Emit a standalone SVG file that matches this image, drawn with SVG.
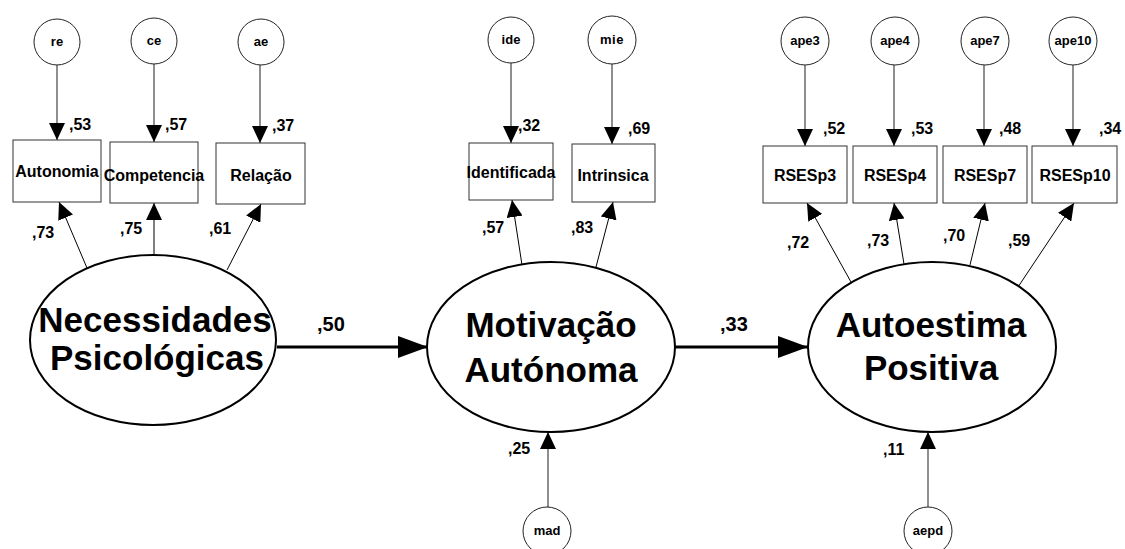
<svg xmlns="http://www.w3.org/2000/svg" width="1125" height="549" viewBox="0 0 1125 549">
<defs>
<marker id="ah" markerUnits="userSpaceOnUse" markerWidth="18" markerHeight="16" refX="17" refY="8" orient="auto"><path d="M0,0 L17,8 L0,16 Z" fill="#000"/></marker>
<marker id="ahb" markerUnits="userSpaceOnUse" markerWidth="30" markerHeight="22" refX="30" refY="11" orient="auto"><path d="M0,0 L30,11 L0,22 Z" fill="#000"/></marker>
</defs>
<style>
text{font-family:"Liberation Sans",Arial,sans-serif;font-weight:bold;fill:#000}
.err{fill:#fff;stroke:#222;stroke-width:1}
.et{font-size:13px;text-anchor:middle}
.box{fill:#fff;stroke:#333;stroke-width:1}
.bt{font-size:16px;text-anchor:middle}
.lat{fill:#fff;stroke:#000;stroke-width:2}
.lt{font-size:35px;text-anchor:middle}
.num{font-size:16px}
.big{font-size:20px}
.ln{stroke:#000;stroke-width:1;fill:none;marker-end:url(#ah)}
.eln{stroke:#444;stroke-width:1.2;fill:none;marker-end:url(#ah)}
.thick{stroke:#000;stroke-width:3;fill:none;marker-end:url(#ahb)}
</style>
<g id="connectors">
<line class="eln" x1="57" y1="64" x2="57" y2="140"/>
<line class="eln" x1="154" y1="63" x2="154" y2="142"/>
<line class="eln" x1="260" y1="65" x2="260" y2="143"/>
<line class="eln" x1="511" y1="63" x2="511" y2="143"/>
<line class="eln" x1="612" y1="64" x2="612" y2="144"/>
<line class="eln" x1="805" y1="65" x2="805" y2="146"/>
<line class="eln" x1="894" y1="65" x2="894" y2="146"/>
<line class="eln" x1="984" y1="65" x2="984" y2="146"/>
<line class="eln" x1="1073" y1="65" x2="1073" y2="146"/>
<line class="ln" x1="87" y1="268" x2="59" y2="202"/>
<line class="ln" x1="154" y1="255" x2="154" y2="203"/>
<line class="ln" x1="227" y1="270" x2="261" y2="204"/>
<line class="ln" x1="522" y1="265" x2="512" y2="200"/>
<line class="ln" x1="596" y1="267" x2="613" y2="202"/>
<line class="ln" x1="851" y1="282" x2="807" y2="203"/>
<line class="ln" x1="904" y1="264" x2="894" y2="203"/>
<line class="ln" x1="970" y1="265" x2="985" y2="203"/>
<line class="ln" x1="1018" y1="287" x2="1074" y2="203"/>
<line class="thick" x1="277" y1="347" x2="428" y2="347"/>
<line class="thick" x1="675" y1="347" x2="808" y2="347"/>
<line class="eln" x1="548" y1="507" x2="548" y2="432"/>
<line class="eln" x1="928" y1="507" x2="928" y2="432"/>
<text class="num" x="69" y="130">,53</text>
<text class="num" x="165" y="130">,57</text>
<text class="num" x="272" y="131">,37</text>
<text class="num" x="518" y="131">,32</text>
<text class="num" x="628" y="134">,69</text>
<text class="num" x="823" y="134">,52</text>
<text class="num" x="911" y="134">,53</text>
<text class="num" x="999" y="134">,48</text>
<text class="num" x="1099" y="134">,34</text>
<text class="num" x="32" y="238">,73</text>
<text class="num" x="120" y="234">,75</text>
<text class="num" x="209" y="234">,61</text>
<text class="num" x="482" y="233">,57</text>
<text class="num" x="571" y="233">,83</text>
<text class="num" x="787" y="248">,72</text>
<text class="num" x="867" y="246">,73</text>
<text class="num" x="943" y="241">,70</text>
<text class="num" x="1008" y="246">,59</text>
<text class="big" x="317" y="331">,50</text>
<text class="big" x="720" y="331">,33</text>
<text class="num" x="508" y="454">,25</text>
<text class="num" x="883" y="455">,11</text>
</g>
<g id="re"><circle class="err" cx="57" cy="42" r="23"/><text class="et" x="57" y="46">re</text></g>
<g id="ce"><circle class="err" cx="154" cy="41" r="23"/><text class="et" x="154" y="45">ce</text></g>
<g id="ae"><circle class="err" cx="261" cy="42" r="23"/><text class="et" x="261" y="46">ae</text></g>
<g id="ide"><circle class="err" cx="511" cy="40" r="23"/><text class="et" x="511" y="44">ide</text></g>
<g id="mie"><circle class="err" cx="612" cy="40" r="24"/><text class="et" x="612" y="44" style="letter-spacing:0.5px">mie</text></g>
<g id="ape3"><circle class="err" cx="805" cy="41" r="24"/><text class="et" x="805" y="45">ape3</text></g>
<g id="ape4"><circle class="err" cx="895" cy="41" r="24"/><text class="et" x="895" y="45">ape4</text></g>
<g id="ape7"><circle class="err" cx="985" cy="41" r="24"/><text class="et" x="985" y="45">ape7</text></g>
<g id="ape10"><circle class="err" cx="1073" cy="41" r="24"/><text class="et" x="1073" y="45">ape10</text></g>
<g id="mad"><circle class="err" cx="547" cy="531" r="24"/><text class="et" x="547" y="535">mad</text></g>
<g id="aepd"><circle class="err" cx="928" cy="531" r="24"/><text class="et" x="928" y="535">aepd</text></g>
<g id="Autonomia"><rect class="box" x="13" y="140" width="88" height="62"/><text class="bt" x="57" y="177">Autonomia</text></g>
<g id="Competencia"><rect class="box" x="110" y="142" width="88" height="61"/><text class="bt" x="154" y="181">Competencia</text></g>
<g id="Relacao"><rect class="box" x="216" y="143" width="89" height="61"/><text class="bt" x="261" y="181">Relação</text></g>
<g id="Identificada"><rect class="box" x="469" y="143" width="84" height="57"/><text class="bt" x="511" y="178">Identificada</text></g>
<g id="Intrinsica"><rect class="box" x="572" y="144" width="83" height="58"/><text class="bt" x="613" y="181">Intrinsica</text></g>
<g id="RSESp3"><rect class="box" x="763" y="146" width="84" height="57"/><text class="bt" x="805" y="181">RSESp3</text></g>
<g id="RSESp4"><rect class="box" x="853" y="146" width="84" height="57"/><text class="bt" x="895" y="181">RSESp4</text></g>
<g id="RSESp7"><rect class="box" x="943" y="146" width="84" height="57"/><text class="bt" x="985" y="181">RSESp7</text></g>
<g id="RSESp10"><rect class="box" x="1032" y="146" width="85" height="57"/><text class="bt" x="1075" y="181">RSESp10</text></g>
<g id="Necessidades"><ellipse class="lat" cx="153" cy="340" rx="123" ry="85"/><text class="lt" x="155" y="332">Necessidades</text><text class="lt" x="157" y="370">Psicológicas</text></g>
<g id="Motivacao"><ellipse class="lat" cx="551" cy="347" rx="124" ry="85"/><text class="lt" x="551" y="337">Motivação</text><text class="lt" x="551" y="382">Autónoma</text></g>
<g id="Autoestima"><ellipse class="lat" cx="932" cy="347" rx="124" ry="85"/><text class="lt" x="931" y="337">Autoestima</text><text class="lt" x="931" y="380">Positiva</text></g>
</svg>
